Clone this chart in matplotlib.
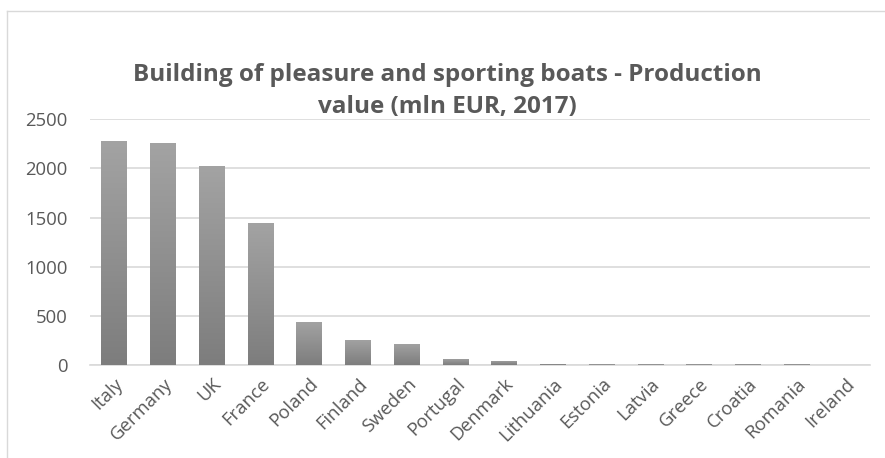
import numpy as np
import matplotlib
matplotlib.use("Agg")
import matplotlib.pyplot as plt
from matplotlib.colors import LinearSegmentedColormap
from matplotlib.lines import Line2D

countries = ["Italy", "Germany", "UK", "France", "Poland", "Finland", "Sweden",
             "Portugal", "Denmark", "Lithuania", "Estonia", "Latvia", "Greece",
             "Croatia", "Romania", "Ireland"]
values = [2275, 2255, 2020, 1440, 440, 258, 218, 62, 42, 12, 10, 9, 8, 7, 6, 5]
yticks = [0, 500, 1000, 1500, 2000, 2500]
title = "Building of pleasure and sporting boats - Production\nvalue (mln EUR, 2017)"

W, H = 885, 458
fig = plt.figure(figsize=(W / 100, H / 100), dpi=100)
fig.patch.set_facecolor("white")

ax = fig.add_axes([90 / W, 1 - 365 / H, 780 / W, (365 - 119.3) / H])

# light-to-dark vertical gradient inside each bar
cmap = LinearSegmentedColormap.from_list("bar", ["#7d7d7d", "#a3a3a3"])
grad = np.linspace(0, 1, 256).reshape(-1, 1)
bars = ax.bar(range(len(countries)), values, width=0.53,
              facecolor="none", edgecolor="none", zorder=3)
for rect in bars:
    x0 = rect.get_x()
    x1 = x0 + rect.get_width()
    h = rect.get_height()
    im = ax.imshow(grad, cmap=cmap, origin="lower", aspect="auto",
                   extent=(x0, x1, 0, h), zorder=3, interpolation="bilinear")
    im.set_clip_path(rect)
ax.set_xlim(-0.5, len(countries) - 0.5)
ax.set_ylim(0, 2500)

ax.set_yticks(yticks)
ax.set_yticklabels([str(v) for v in yticks])
ax.yaxis.grid(True, color="#d9d9d9", linewidth=1.2, zorder=0)
ax.set_axisbelow(True)
for s in ["top", "right", "left"]:
    ax.spines[s].set_visible(False)
ax.spines["bottom"].set_color("#d9d9d9")
ax.spines["bottom"].set_linewidth(1.2)
ax.tick_params(axis="both", length=0, colors="#595959", labelsize=13.3)
ax.tick_params(axis="y", pad=16)
ax.set_xticks(range(len(countries)))
ax.set_xticklabels(countries, rotation=45, ha="right", va="top",
                   rotation_mode="anchor", fontfamily="Open Sans")
for lab in ax.get_yticklabels():
    lab.set_fontfamily("Open Sans")
ax.tick_params(axis="x", pad=7)

fig.text(0.505, 1 - 91 / H, title, ha="center", va="center",
         fontsize=17.5, fontweight="bold", color="#595959",
         fontfamily="Open Sans", linespacing=1.42)

# chart frame
fig.add_artist(Line2D([7 / W, 1], [1 - 10.5 / H, 1 - 10.5 / H],
                      transform=fig.transFigure, color="#d9d9d9", linewidth=1))
fig.add_artist(Line2D([7 / W, 7 / W], [0, 1 - 10.5 / H],
                      transform=fig.transFigure, color="#d9d9d9", linewidth=1))

fig.savefig("out.png", dpi=100, facecolor="white")
